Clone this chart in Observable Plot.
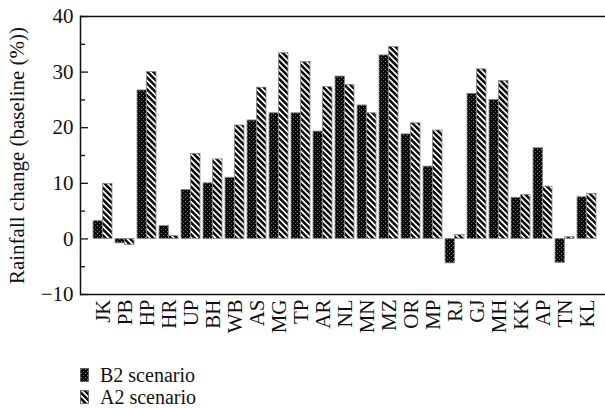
<!DOCTYPE html>
<html><head><meta charset="utf-8">
<script src="https://cdn.jsdelivr.net/npm/d3@7"></script>
<script src="https://cdn.jsdelivr.net/npm/@observablehq/plot@0.6"></script>
<style>
body{margin:0;background:#fff;font-family:"Liberation Serif","DejaVu Serif",serif;}
#chart svg text{font-size:21px !important;font-family:"Liberation Serif","DejaVu Serif",serif;fill:#111}
#legend{margin-top:24px;padding-left:80px;font-size:20px;line-height:22px;color:#111}
.row{display:flex;align-items:center;height:22px}
.row svg{margin-right:11px}
</style></head><body>
<div id="chart"></div>
<div id="legend"></div>
<script>
const states = ["JK","PB","HP","HR","UP","BH","WB","AS","MG","TP","AR","NL","MN","MZ","OR","MP","RJ","GJ","MH","KK","AP","TN","KL"];
const b2Values = [3.2,-0.8,26.7,2.3,8.8,10.0,11.0,21.3,22.6,22.6,19.3,29.2,24.0,33.0,18.8,13.0,-4.4,26.1,25.0,7.4,16.3,-4.3,7.5];
const a2Values = [9.9,-1.1,30.0,0.5,15.3,14.3,20.4,27.2,33.4,31.8,27.3,27.7,22.6,34.5,20.8,19.5,0.7,30.5,28.4,7.9,9.4,0.3,8.1];
const yTicks = [-10,0,10,20,30,40];
const yMinorTicks = [-5,5,15,25,35];
const seriesNames = ["B2 scenario","A2 scenario"];

const b2 = states.map((s,i)=>({state:s, value:b2Values[i]}));
const a2 = states.map((s,i)=>({state:s, value:a2Values[i]}));

const defs = `
<pattern id="pB2" patternUnits="userSpaceOnUse" width="4" height="4">
  <rect width="4" height="4" fill="#0a0a0a"/>
  <rect x="1" y="1" width="1" height="1" fill="#8a8a8a"/>
  <rect x="3" y="3" width="1" height="1" fill="#6a6a6a"/>
</pattern>
<pattern id="pA2" patternUnits="userSpaceOnUse" width="4.2" height="4.2" patternTransform="rotate(-45)">
  <rect width="4.2" height="4.2" fill="#0a0a0a"/>
  <rect x="0" y="0" width="1.7" height="4.2" fill="#fff"/>
</pattern>`;

const font = `"Liberation Serif","DejaVu Serif",serif`;
const plot = Plot.plot({
  width: 605,
  height: 340,
  marginTop: 16,
  marginBottom: 46,
  marginLeft: 80,
  marginRight: 0,
  style: {fontFamily: font, fontSize: "21px", color: "#111", background: "#fff"},
  x: {domain: states, paddingInner: 0.14, paddingOuter: 0.45, align: 0.6, label: null},
  y: {domain: [-10, 40], label: null},
  marks: [
    Plot.barY(b2, {x: "state", y: "value", fill: "url(#pB2)", stroke: "#888", strokeWidth: 0.8, insetRight: 9.5}),
    Plot.barY(a2, {x: "state", y: "value", fill: "url(#pA2)", stroke: "#888", strokeWidth: 0.8, insetLeft: 9.5}),
    Plot.ruleY([-10, 40], {stroke: "#111", strokeWidth: 1.5}),
    Plot.frame({anchor: "left", stroke: "#111", strokeWidth: 1.5}),
    Plot.axisX({tickSize: 0, tickRotate: -90, tickPadding: 5, fontSize: 21, label: null}),
    Plot.axisY({ticks: yTicks, tickSize: -8, tickPadding: 15, strokeWidth: 1.3, fontSize: 21,
      label: "Rainfall change (baseline (%))", labelAnchor: "center", labelOffset: 71, labelArrow: "none"}),
    Plot.axisY({ticks: yMinorTicks, tickSize: -5, strokeWidth: 1.3, tickFormat: () => "", label: null})
  ]
});
const svgDefs = document.createElementNS("http://www.w3.org/2000/svg", "defs");
svgDefs.innerHTML = defs;
plot.insertBefore(svgDefs, plot.firstChild);
document.getElementById("chart").appendChild(plot);

const legend = document.getElementById("legend");
const legendFills = ["pB2","pA2"];
seriesNames.forEach((name, i) => {
  const row = document.createElement("div");
  row.className = "row";
  row.innerHTML = `<svg width="9" height="14"><rect x="0.5" y="0.5" width="8" height="13" fill="url(#${legendFills[i]})" stroke="#555" stroke-width="0.8"/></svg><span>${name}</span>`;
  legend.appendChild(row);
});
</script>
</body></html>
